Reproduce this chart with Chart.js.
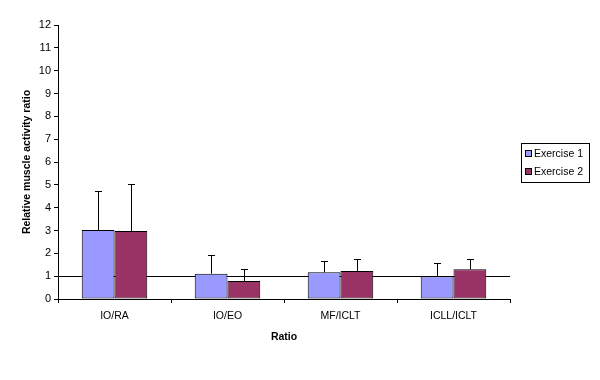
<!DOCTYPE html>
<html>
<head>
<meta charset="utf-8">
<script src="https://cdn.jsdelivr.net/npm/chart.js@4.4.1/dist/chart.umd.min.js"></script>
<style>
  html, body { margin: 0; padding: 0; background: #fff; }
  #wrap { position: relative; width: 600px; height: 380px; }
</style>
</head>
<body>
<div id="wrap"><canvas id="grafico" width="600" height="380"></canvas></div>
<script>
// valores
const CATEGORIAS = ['IO/RA', 'IO/EO', 'MF/ICLT', 'ICLL/ICLT'];
const EXERCICIO_1 = [3.02, 1.11, 1.17, 1.0];
const EXERCICIO_2 = [2.98, 0.79, 1.23, 1.30];
const ERRO_1 = [1.72, 0.83, 0.48, 0.56];
const ERRO_2 = [2.04, 0.51, 0.51, 0.44];
const Y_TICKS = [0, 1, 2, 3, 4, 5, 6, 7, 8, 9, 10, 11, 12];
const LINHA_REF = 1;

const COR_1 = '#9999FF';
const COR_2 = '#993366';
const FONTE = 'Arial, "Liberation Sans", sans-serif';

// barras de erro (so para cima, com "T" no topo)
const pluginErro = {
  id: 'erro',
  afterDatasetsDraw(chart) {
    const ctx = chart.ctx;
    const y = chart.scales.y;
    [ERRO_1, ERRO_2].forEach((erros, d) => {
      const meta = chart.getDatasetMeta(d);
      const valores = chart.data.datasets[d].data;
      meta.data.forEach((bar, i) => {
        const base = y.getPixelForValue(valores[i]);
        const topo = Math.round(y.getPixelForValue(valores[i] + erros[i])) + 0.5;
        const x = Math.round(bar.x) + 0.5;
        ctx.save();
        ctx.strokeStyle = '#000';
        ctx.lineWidth = 1;
        ctx.beginPath();
        ctx.moveTo(x, base);
        ctx.lineTo(x, topo);
        ctx.moveTo(x - 3.5, topo);
        ctx.lineTo(x + 3.5, topo);
        ctx.stroke();
        ctx.restore();
      });
    });
  }
};

// linha horizontal em 1, atras das barras
const pluginLinha = {
  id: 'linhaRef',
  beforeDatasetsDraw(chart) {
    const { ctx, chartArea } = chart;
    const py = Math.round(chart.scales.y.getPixelForValue(LINHA_REF)) + 0.5;
    ctx.save();
    ctx.strokeStyle = '#000';
    ctx.lineWidth = 1;
    ctx.beginPath();
    ctx.moveTo(chartArea.left, py);
    ctx.lineTo(chartArea.right, py);
    ctx.stroke();
    ctx.restore();
  }
};

// legenda com moldura, a direita
const pluginLegenda = {
  id: 'legendaCaixa',
  afterDraw(chart) {
    const ctx = chart.ctx;
    const itens = chart.data.datasets;
    ctx.save();
    ctx.strokeStyle = '#000';
    ctx.lineWidth = 1;
    ctx.strokeRect(521.5, 143.5, 68, 39);
    ctx.font = '10.5px ' + FONTE;
    ctx.textBaseline = 'middle';
    itens.forEach((ds, i) => {
      const cy = 154 + i * 18;
      ctx.fillStyle = ds.backgroundColor;
      ctx.fillRect(525.5, cy - 3.5, 6, 6);
      ctx.strokeRect(525.5, cy - 3.5, 6, 6);
      ctx.fillStyle = '#000';
      ctx.fillText(ds.label, 534, cy);
    });
    ctx.restore();
  }
};

new Chart(document.getElementById('grafico'), {
  type: 'bar',
  data: {
    labels: CATEGORIAS,
    datasets: [
      { label: 'Exercise 1', data: EXERCICIO_1, backgroundColor: COR_1, borderColor: '#000', borderWidth: 1, borderSkipped: false },
      { label: 'Exercise 2', data: EXERCICIO_2, backgroundColor: COR_2, borderColor: '#000', borderWidth: 1, borderSkipped: false }
    ]
  },
  options: {
    responsive: false,
    animation: false,
    categoryPercentage: 0.58,
    barPercentage: 1.0,
    layout: { padding: { left: 0, right: 90, top: 25, bottom: 0 } },
    plugins: { legend: { display: false }, tooltip: { enabled: false } },
    scales: {
      x: {
        grid: { display: true, drawOnChartArea: false, tickLength: 4, color: '#000' },
        border: { color: '#000' },
        ticks: { color: '#000', font: { size: 10.5, family: FONTE }, padding: 7, maxRotation: 0 },
        title: { display: true, text: 'Ratio', color: '#000', font: { size: 10.5, weight: 'bold', family: FONTE }, padding: { top: 0, bottom: 37 } },
        afterFit: s => { s.height = 81; }
      },
      y: {
        min: 0, max: 12,
        afterBuildTicks: s => { s.ticks = Y_TICKS.map(v => ({ value: v })); },
        grid: { display: true, drawOnChartArea: false, tickLength: 4, color: '#000' },
        border: { color: '#000' },
        ticks: { color: '#000', font: { size: 11, family: FONTE }, padding: 3 },
        title: { display: true, text: 'Relative muscle activity ratio', color: '#000', font: { size: 10.5, weight: 'bold', family: FONTE }, padding: { top: 21, bottom: 0 } },
        afterFit: s => { s.width = 58; }
      }
    }
  },
  plugins: [pluginLinha, pluginErro, pluginLegenda]
});
</script>
</body>
</html>
